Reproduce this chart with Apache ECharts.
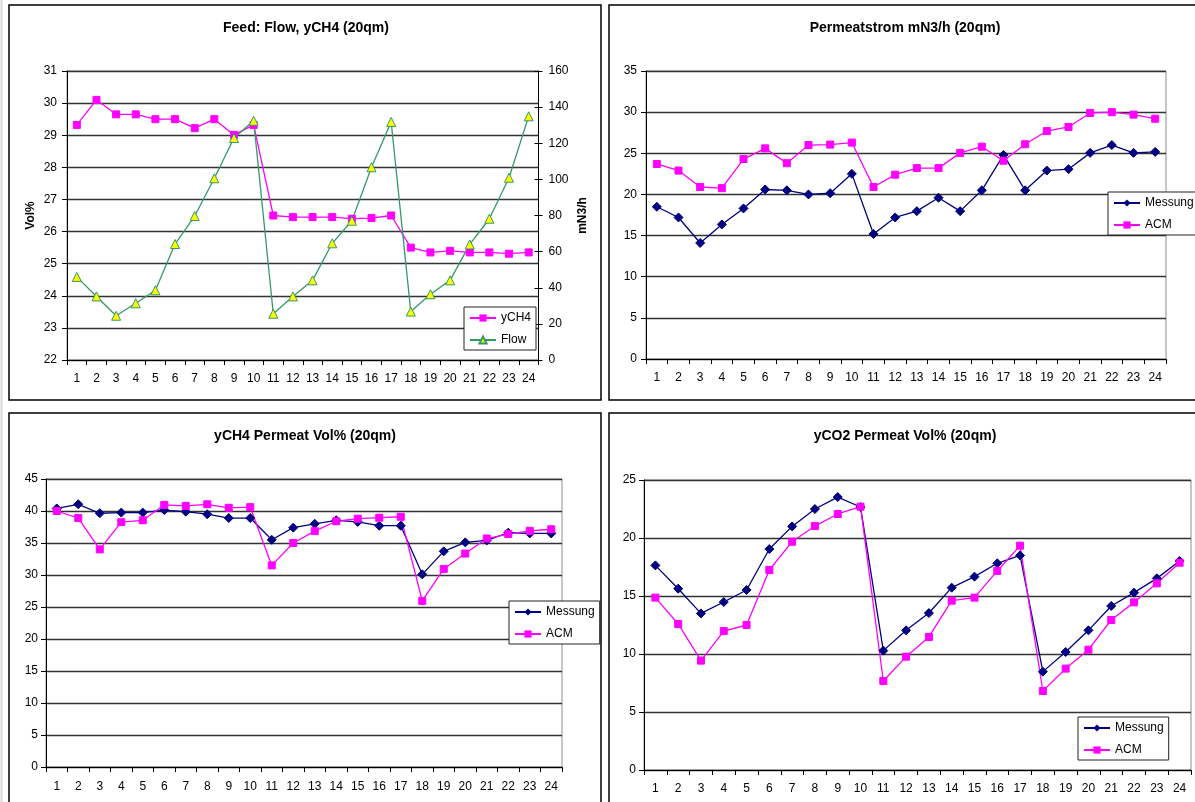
<!DOCTYPE html>
<html>
<head>
<meta charset="utf-8">
<script src="https://cdn.jsdelivr.net/npm/echarts@6/dist/echarts.min.js"></script>
<style>
  html, body { margin: 0; padding: 0; background: #fff; }
  #chart { width: 1195px; height: 802px; }
</style>
</head>
<body>
<div id="chart"></div>
<script>
// Measurement points 1..24
const categories = ['1','2','3','4','5','6','7','8','9','10','11','12','13','14','15','16','17','18','19','20','21','22','23','24'];

// Feed: methane fraction (Vol%) and feed flow (mN3/h)
const feedYCH4 = [29.32, 30.10, 29.65, 29.65, 29.50, 29.50, 29.22, 29.50, 29.01, 29.32, 26.50, 26.45, 26.45, 26.45, 26.40, 26.42, 26.50, 25.50, 25.35, 25.40, 25.35, 25.35, 25.31, 25.35];
const feedFlow = [46.0, 35.2, 24.5, 31.4, 38.6, 64.2, 79.7, 100.6, 122.9, 132.5, 25.6, 35.2, 44.1, 64.6, 77.1, 106.7, 131.8, 26.8, 36.4, 44.1, 64.0, 78.2, 100.9, 134.9];

// Permeate flow mN3/h: measurement vs. ACM model
const permFlowMessung = [18.5, 17.2, 14.1, 16.35, 18.3, 20.6, 20.5, 20.0, 20.15, 22.5, 15.2, 17.2, 17.97, 19.6, 17.97, 20.5, 24.8, 20.5, 22.9, 23.07, 25.05, 26.0, 25.05, 25.17];
const permFlowACM = [23.7, 22.9, 20.9, 20.76, 24.3, 25.6, 23.8, 26.0, 26.06, 26.3, 20.9, 22.4, 23.2, 23.2, 25.05, 25.8, 24.1, 26.1, 27.7, 28.2, 29.9, 30.0, 29.7, 29.2];

// Permeate CH4 Vol%
const permCH4Messung = [40.4, 41.05, 39.65, 39.75, 39.75, 40.15, 39.9, 39.5, 38.9, 38.9, 35.5, 37.4, 38.0, 38.55, 38.3, 37.7, 37.7, 30.1, 33.7, 35.1, 35.4, 36.6, 36.5, 36.5];
const permCH4ACM = [40.0, 38.9, 34.0, 38.25, 38.55, 40.95, 40.8, 41.05, 40.5, 40.6, 31.5, 35.0, 36.85, 38.4, 38.8, 38.95, 39.1, 25.95, 30.95, 33.35, 35.7, 36.4, 36.9, 37.15];

// Permeate CO2 Vol%
const permCO2Messung = [17.64, 15.63, 13.5, 14.48, 15.52, 19.05, 21.0, 22.5, 23.53, 22.67, 10.29, 12.04, 13.53, 15.72, 16.67, 17.82, 18.5, 8.48, 10.17, 12.04, 14.14, 15.29, 16.52, 18.02];
const permCO2ACM = [14.86, 12.59, 9.43, 11.98, 12.5, 17.24, 19.68, 21.03, 22.07, 22.7, 7.67, 9.77, 11.47, 14.6, 14.86, 17.16, 19.34, 6.81, 8.74, 10.37, 12.93, 14.45, 16.09, 17.87];

const FONT = '"Liberation Sans", Arial, sans-serif';
const NAVY = '#000080';
const MAGENTA = '#ff00ff';
const GREEN = '#339966';

function xAxisFor(gridIndex, margin) {
  return {
    type: 'category', gridIndex: gridIndex, data: categories, boundaryGap: true,
    axisLine: { show: true, lineStyle: { color: '#000', width: 1 } },
    axisTick: { show: true, alignWithLabel: false, interval: 0, length: 5, lineStyle: { color: '#000' } },
    axisLabel: { color: '#000', fontSize: 12, fontFamily: FONT, margin: margin, interval: 0 },
    splitLine: { show: false }
  };
}

function yAxisFor(gridIndex, min, max, interval, extra) {
  return Object.assign({
    type: 'value', gridIndex: gridIndex, min: min, max: max, interval: interval,
    axisLine: { show: true, lineStyle: { color: '#000', width: 1 } },
    axisTick: { show: true, length: 5, lineStyle: { color: '#000' } },
    axisLabel: { color: '#000', fontSize: 12, fontFamily: FONT, margin: 9 },
    splitLine: { show: true, lineStyle: { color: '#333', width: 1.4 } }
  }, extra || {});
}

function messungSeries(xi, yi, data) {
  return {
    name: 'Messung', type: 'line', xAxisIndex: xi, yAxisIndex: yi, data: data,
    symbol: 'diamond', symbolSize: 9, showAllSymbol: true,
    lineStyle: { color: NAVY, width: 1.3 },
    itemStyle: { color: NAVY, borderColor: NAVY },
    animation: false
  };
}

function acmSeries(xi, yi, data) {
  return {
    name: 'ACM', type: 'line', xAxisIndex: xi, yAxisIndex: yi, data: data,
    symbol: 'rect', symbolSize: 7, showAllSymbol: true,
    lineStyle: { color: MAGENTA, width: 1.3 },
    itemStyle: { color: MAGENTA, borderColor: MAGENTA },
    animation: false
  };
}

function legendAt(left, top, names) {
  return {
    orient: 'vertical', left: left, top: top, data: names,
    padding: [5, 5, 4, 5], itemGap: 10, itemWidth: 26, itemHeight: 9,
    backgroundColor: '#fff', borderColor: '#222', borderWidth: 1,
    textStyle: { color: '#000', fontSize: 12, fontFamily: FONT },
    selectedMode: false
  };
}

function titleAt(text, cx, top) {
  return {
    text: text, left: cx, top: top, textAlign: 'center', padding: 0,
    textStyle: { color: '#000', fontSize: 14, fontWeight: 'bold', fontFamily: FONT }
  };
}

function panelFrame(x, y, w, h) {
  return {
    type: 'rect', silent: true, z: 100,
    shape: { x: x, y: y, width: w, height: h },
    style: { fill: 'none', stroke: '#000', lineWidth: 1.5 }
  };
}

const gridStyle = { show: true, borderColor: '#8c8c8c', borderWidth: 1, backgroundColor: 'transparent' };

const option = {
  backgroundColor: '#fff',
  animation: false,
  title: [
    titleAt('Feed: Flow, yCH4 (20qm)', 306, 21),
    titleAt('Permeatstrom mN3/h (20qm)', 905, 21),
    titleAt('yCH4 Permeat Vol% (20qm)', 305, 429),
    titleAt('yCO2 Permeat Vol% (20qm)', 905, 429)
  ],
  grid: [
    Object.assign({ left: 67, top: 71, width: 471.5, height: 289 }, gridStyle),
    Object.assign({ left: 646, top: 71, width: 520, height: 288 }, gridStyle),
    Object.assign({ left: 46, top: 479, width: 516, height: 288 }, gridStyle),
    Object.assign({ left: 644, top: 480, width: 547, height: 290 }, gridStyle)
  ],
  xAxis: [
    xAxisFor(0, 13),
    xAxisFor(1, 13),
    xAxisFor(2, 14),
    xAxisFor(3, 13)
  ],
  yAxis: [
    yAxisFor(0, 22, 31, 1, {
      name: 'Vol%', nameLocation: 'middle', nameGap: 30, nameRotate: 90,
      nameTextStyle: { color: '#000', fontSize: 12, fontWeight: 'bold', fontFamily: FONT },
      axisLabel: { color: '#000', fontSize: 12, fontFamily: FONT, margin: 10 }
    }),
    yAxisFor(0, 0, 160, 20, {
      position: 'right', splitLine: { show: false },
      name: 'mN3/h', nameLocation: 'middle', nameGap: 38, nameRotate: 90,
      nameTextStyle: { color: '#000', fontSize: 12, fontWeight: 'bold', fontFamily: FONT },
      axisTick: { show: true, length: 4, lineStyle: { color: '#000' } },
      axisLabel: { color: '#000', fontSize: 12, fontFamily: FONT, margin: 10 }
    }),
    // inner half of the crossing ticks on the right-hand flow axis
    yAxisFor(0, 0, 160, 20, {
      position: 'right', splitLine: { show: false }, axisLine: { show: false },
      axisTick: { show: true, inside: true, length: 4, lineStyle: { color: '#000' } },
      axisLabel: { show: false }
    }),
    yAxisFor(1, 0, 35, 5),
    yAxisFor(2, 0, 45, 5, { axisLabel: { color: '#000', fontSize: 12, fontFamily: FONT, margin: 8 } }),
    yAxisFor(3, 0, 25, 5, { axisLabel: { color: '#000', fontSize: 12, fontFamily: FONT, margin: 8 } })
  ],
  legend: [
    legendAt(464, 307, ['yCH4', 'Flow']),
    legendAt(1108, 192, ['Messung', 'ACM']),
    legendAt(509, 601, ['Messung', 'ACM']),
    legendAt(1078, 717, ['Messung', 'ACM'])
  ],
  series: [
    {
      name: 'yCH4', type: 'line', xAxisIndex: 0, yAxisIndex: 0, data: feedYCH4,
      symbol: 'rect', symbolSize: 7, showAllSymbol: true,
      lineStyle: { color: MAGENTA, width: 1.3 },
      itemStyle: { color: MAGENTA, borderColor: MAGENTA },
      animation: false
    },
    {
      name: 'Flow', type: 'line', xAxisIndex: 0, yAxisIndex: 1, data: feedFlow,
      symbol: 'triangle', symbolSize: 9, showAllSymbol: true,
      lineStyle: { color: GREEN, width: 1.3 },
      itemStyle: { color: '#ffff00', borderColor: GREEN, borderWidth: 1 },
      animation: false
    },
    messungSeries(1, 3, permFlowMessung),
    acmSeries(1, 3, permFlowACM),
    messungSeries(2, 4, permCH4Messung),
    acmSeries(2, 4, permCH4ACM),
    messungSeries(3, 5, permCO2Messung),
    acmSeries(3, 5, permCO2ACM)
  ],
  graphic: [
    { type: 'line', silent: true, shape: { x1: 1.5, y1: 0, x2: 1.5, y2: 802 }, style: { stroke: '#d8d8d8', lineWidth: 2 } },
    panelFrame(9, 5, 592, 395),
    panelFrame(609, 5, 600, 395),
    panelFrame(9, 413, 592, 400),
    panelFrame(609, 413, 600, 400)
  ]
};

const chart = echarts.init(document.getElementById('chart'), null, { renderer: 'canvas' });
chart.setOption(option);
</script>
</body>
</html>
